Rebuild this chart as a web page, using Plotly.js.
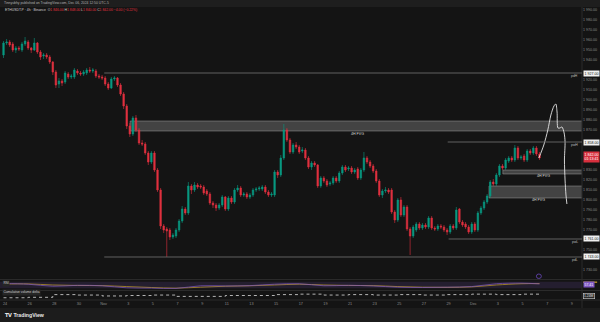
<!DOCTYPE html>
<html><head><meta charset="utf-8">
<script src="https://cdn.plot.ly/plotly-3.0.1.min.js"></script>
<style>html,body{margin:0;padding:0;background:#141414;}#chart{width:600px;height:322px;}</style>
</head><body><div id="chart"></div>
<script>
// ---- candle data (price) ----
const openP=[
1945,1957,1958,1956,1950,1952,1950,1956,1958,1952,
1950,1957,1948,1944,1945,1943,1938,1928,1916,1919,
1918,1926,1923,1923,1929,1927,1926,1927,1930,1929,
1929,1924,1923,1922,1916,1912,1921,1922,1915,1906,
1894,1874,1866,1882,1870,1857,1856,1847,1838,1847,
1830,1810,1774,1771,1770,1763,1764,1770,1779,1791,
1787,1814,1810,1815,1814,1813,1809,1806,1797,1795,
1792,1795,1803,1791,1802,1798,1810,1812,1805,1806,
1803,1805,1810,1811,1811,1813,1808,1805,1805,1828,
1825,1842,1870,1860,1848,1855,1853,1849,1850,1842,
1833,1837,1835,1814,1822,1819,1816,1817,1822,1819,
1827,1833,1831,1832,1828,1831,1822,1830,1842,1838,
1834,1829,1819,1805,1809,1810,1810,1788,1780,1800,
1785,1793,1771,1764,1770,1776,1772,1775,1773,1782,
1772,1771,1774,1773,1770,1768,1774,1772,1791,1778,
1776,1773,1768,1776,1770,1787,1792,1798,1804,1818,
1816,1825,1834,1832,1839,1842,1840,1852,1842,1844,
1840,1849,1847,1852,1846];
const highP=[
1959,1961,1960,1958,1954,1954,1958,1963,1960,1953,
1962,1958,1950,1947,1947,1945,1939,1930,1922,1921,
1929,1928,1926,1932,1931,1929,1930,1932,1933,1932,
1931,1926,1925,1924,1918,1923,1924,1923,1917,1908,
1896,1877,1884,1885,1872,1860,1858,1849,1849,1849,
1832,1812,1776,1773,1772,1767,1772,1781,1794,1793,
1818,1816,1818,1817,1816,1815,1811,1808,1799,1797,
1797,1805,1804,1804,1804,1812,1815,1814,1808,1808,
1807,1812,1813,1814,1815,1815,1810,1808,1830,1830,
1845,1876,1872,1862,1857,1858,1855,1853,1852,1844,
1839,1839,1836,1824,1824,1821,1819,1824,1824,1829,
1835,1835,1834,1834,1832,1833,1832,1848,1844,1840,
1836,1831,1821,1811,1813,1812,1812,1790,1802,1803,
1795,1795,1773,1775,1778,1778,1777,1777,1784,1784,
1774,1776,1776,1775,1772,1776,1776,1793,1792,1780,
1778,1775,1778,1778,1789,1794,1800,1806,1820,1821,
1827,1836,1836,1842,1844,1844,1855,1854,1845,1846,
1851,1851,1854,1854,1848];
const lowP=[
1942,1955,1953,1948,1947,1949,1948,1954,1950,1947,
1949,1946,1940,1941,1941,1936,1925,1912,1912,1914,
1916,1921,1921,1921,1925,1924,1924,1925,1927,1927,
1922,1921,1920,1914,1910,1911,1919,1913,1904,1891,
1871,1863,1864,1868,1855,1854,1845,1835,1836,1828,
1808,1771,1767,1743,1760,1761,1762,1768,1777,1785,
1785,1806,1808,1811,1811,1805,1804,1795,1792,1789,
1790,1793,1789,1789,1796,1796,1808,1803,1803,1801,
1801,1803,1808,1809,1809,1806,1803,1803,1803,1822,
1823,1840,1858,1846,1846,1851,1846,1847,1840,1831,
1830,1833,1812,1812,1817,1813,1814,1815,1817,1817,
1825,1828,1829,1826,1826,1820,1820,1828,1836,1832,
1827,1817,1803,1802,1807,1806,1786,1777,1778,1783,
1783,1769,1745,1762,1768,1770,1770,1771,1771,1770,
1769,1769,1771,1768,1765,1766,1770,1770,1776,1773,
1771,1766,1766,1768,1768,1785,1790,1796,1802,1814,
1814,1823,1830,1830,1837,1838,1838,1840,1840,1838,
1838,1845,1845,1844,1840];
const closeP=[
1957,1958,1955,1950,1952,1951,1956,1959,1952,1950,
1957,1948,1943,1945,1943,1938,1928,1915,1919,1917,
1927,1923,1924,1930,1927,1926,1928,1930,1929,1930,
1924,1923,1922,1916,1912,1921,1922,1915,1906,1894,
1874,1866,1882,1870,1857,1856,1847,1838,1847,1830,
1810,1774,1770,1769,1763,1765,1770,1779,1791,1787,
1814,1810,1815,1813,1813,1807,1806,1797,1795,1792,
1795,1803,1791,1802,1798,1810,1812,1805,1806,1803,
1805,1810,1811,1812,1813,1808,1805,1806,1828,1825,
1842,1870,1860,1848,1855,1853,1848,1850,1842,1833,
1837,1835,1814,1822,1819,1815,1817,1822,1819,1827,
1833,1830,1832,1828,1830,1822,1830,1842,1838,1834,
1829,1819,1805,1809,1810,1808,1788,1780,1800,1785,
1793,1771,1764,1773,1776,1772,1775,1773,1782,1772,
1771,1774,1773,1770,1768,1774,1772,1790,1778,1775,
1773,1768,1776,1770,1787,1792,1798,1804,1818,1816,
1825,1834,1832,1840,1842,1840,1852,1842,1843,1840,
1849,1847,1852,1846,1842];

// time axis labels (every 2 days)
const timeLabels=["24","26","28","30","Nov","3","5","7","9","11","13","15","17","19","21","23","25","27","29","Dec","3","5","7","9"];

// price axis labels
const priceTicks=[1730,1740,1750,1760,1770,1780,1790,1800,1810,1820,1830,1840,1850,1860,1870,1880,1890,1900,1910,1920,1930,1940,1950,1960,1970,1980,1990];

// key levels
const levelNames=["pdH","pwH","pwL","pdL"];
const levelPrice=[1927,1858,1761,1743];
const levelStart=[32.7,144.2,144.5,32.7];

// fair value gaps
const fvgTop=[1879,1830,1814];
const fvgBottom=[1869,1826,1802];
const fvgStart=[41.1,162.1,157.6];
const fvgLabelAt=[115,175.4,173.8];

// hand-drawn projection path
const pathIdx=[173.8,175.4,176.7,177.7,178.7,179.3,179.7,180.0,180.6,181.3,182.0,182.3,182.1,182.3,182.6,182.9];
const pathPrice=[1842,1855,1870,1885,1894,1896,1888,1872,1872,1873,1867,1858,1840,1820,1805,1796];

// RSI pane
const rsiIdx=[0,8,16,24,32,40,48,56,64,72,80,88,96,104,112,120,128,136,144,152,160,168,174];
const rsiVal=[60,55,42,48,45,32,30,28,45,44,46,55,58,45,48,44,36,34,36,40,58,62,57];
const rsiMA=[56,57,50,47,46,40,34,30,36,42,45,50,55,50,47,46,40,36,35,38,50,58,59];

// cumulative volume delta pane
const cvdVal=[2.5,3,6,5.5,4.5,5,5.5,4,4,5,5,6,6.5,5.5,6,5.5,6,5.5,6,6.5,6,6.5,6];

const GREEN='#089981', RED='#e0313f';
const idx=openP.map((_,i)=>i);
const fmt=v=>v.toLocaleString('en-US',{minimumFractionDigits:2,maximumFractionDigits:2}).replace(/,/g,' ');
const last=closeP[closeP.length-1];
// hide axis labels hidden behind the highlighted price boxes
const boxed=levelPrice.concat([last,last+2]);
const shownTicks=priceTicks.filter(v=>boxed.every(b=>Math.abs(v-b)>=7));

const traces=[
 {type:'candlestick',x:idx,open:openP,high:highP,low:lowP,close:closeP,xaxis:'x',yaxis:'y',
  increasing:{line:{color:GREEN,width:0.6},fillcolor:GREEN},
  decreasing:{line:{color:RED,width:0.6},fillcolor:RED},
  whiskerwidth:0,hoverinfo:'skip'},
 {type:'scatter',mode:'lines',x:pathIdx,y:pathPrice,xaxis:'x',yaxis:'y',
  line:{color:'#e6e6e6',width:0.9,shape:'spline',smoothing:0.8},hoverinfo:'skip'},
 {type:'scatter',mode:'lines',x:rsiIdx,y:rsiMA,xaxis:'x',yaxis:'y2',
  line:{color:'#c9a227',width:0.7,shape:'spline'},hoverinfo:'skip'},
 {type:'scatter',mode:'lines',x:rsiIdx,y:rsiVal,xaxis:'x',yaxis:'y2',
  line:{color:'#7e57c2',width:0.7,shape:'spline'},hoverinfo:'skip'},
 {type:'scatter',mode:'lines',x:rsiIdx,y:cvdVal,xaxis:'x',yaxis:'y3',
  line:{color:'#dddddd',width:0.8,dash:'dot',shape:'hv'},hoverinfo:'skip'}
];

const shapes=[];
const annotations=[];
const BORDER='#2b2b2b';
// header & footer strips
shapes.push({type:'rect',xref:'paper',yref:'paper',x0:0,x1:1.04,y0:1,y1:1.03,fillcolor:'#1e1e1e',line:{width:0},layer:'below'});
shapes.push({type:'rect',xref:'paper',yref:'paper',x0:0,x1:1.04,y0:-0.0751,y1:-0.0273,fillcolor:'#1c1c1c',line:{width:0},layer:'below'});
// pane separators
shapes.push({type:'line',xref:'paper',yref:'paper',x0:1,x1:1,y0:-0.0273,y1:1,line:{color:BORDER,width:1}});
[0.0700,0.0324,0].forEach(p=>shapes.push({type:'line',xref:'paper',yref:'paper',x0:0,x1:1.04,y0:p,y1:p,line:{color:BORDER,width:1}}));
// RSI band
shapes.push({type:'rect',xref:'paper',yref:'y2',x0:0,x1:1,y0:30,y1:70,fillcolor:'rgba(126,87,194,0.16)',line:{width:0},layer:'below'});
// RSI-MA marker strip on the axis (yellow tab peeking above the RSI value box)
shapes.push({type:'rect',xref:'paper',yref:'y2',x0:1.002,x1:1.026,y0:64,y1:72,fillcolor:'#c9a227',line:{width:0}});
// FVG boxes
fvgTop.forEach((t,k)=>{
 shapes.push({type:'rect',xref:'x',yref:'y',x0:fvgStart[k],x1:200,y0:fvgBottom[k],y1:t,
  fillcolor:'rgba(125,125,125,0.45)',line:{color:'rgba(170,170,170,0.55)',width:0.8},layer:'below'});
 annotations.push({xref:'x',yref:'y',x:fvgLabelAt[k],y:fvgBottom[k]-2.5,text:'4H FVG',showarrow:false,
  font:{family:'Arial',size:3.6,color:'#d8d8d8'}});
});
// levels
levelPrice.forEach((p,k)=>{
 shapes.push({type:'line',xref:'x',yref:'y',x0:levelStart[k],x1:200,y0:p,y1:p,line:{color:'#6a6a6a',width:0.9}});
 annotations.push({xref:'paper',yref:'y',x:0.997,xanchor:'right',y:p-3,text:levelNames[k],showarrow:false,
  font:{family:'Arial',size:3.4,color:'#bdbdbd'}});
 annotations.push({xref:'paper',yref:'y',x:1,xanchor:'left',xshift:1,y:p,text:fmt(p),showarrow:false,
  bgcolor:'#f0f0f0',borderpad:0.6,font:{family:'Arial',size:3.6,color:'#131313'}});
});
// circle icon
shapes.push({type:'circle',xref:'x',yref:'y',x0:173.0,x1:174.6,y0:1721.5,y1:1726,line:{color:'#5a3f9e',width:1}});
// current price label
annotations.push({xref:'paper',yref:'y',x:1,xanchor:'left',xshift:1,y:last+1,text:fmt(last)+'<br>01:13:41',showarrow:false,
 bgcolor:'#d8303e',borderpad:0.6,font:{family:'Arial',size:3.6,color:'#ffffff'}});
// RSI & CVD value boxes
annotations.push({xref:'paper',yref:'y2',x:1,xanchor:'left',xshift:1,y:52,text:'57.41',showarrow:false,
 bgcolor:'#7e57c2',borderpad:0.6,font:{family:'Arial',size:3.4,color:'#ffffff'}});
annotations.push({xref:'paper',yref:'y3',x:1,xanchor:'left',xshift:1,y:5,text:'1.24M',showarrow:false,
 bgcolor:'#2a2a2a',bordercolor:'#d0d0d0',borderwidth:0.6,borderpad:0.4,font:{family:'Arial',size:3.4,color:'#e0e0e0'}});
// pane titles
annotations.push({xref:'paper',yref:'y2',x:0.004,xanchor:'left',y:62,text:'RSI',showarrow:false,
 bgcolor:'#262626',borderpad:0.4,font:{family:'Arial',size:3.3,color:'#cfcfcf'}});
annotations.push({xref:'paper',yref:'y3',x:0.004,xanchor:'left',y:8,text:'Cumulative volume delta',showarrow:false,
 bgcolor:'#262626',borderpad:0.4,font:{family:'Arial',size:3.3,color:'#cfcfcf'}});
// header texts
annotations.push({xref:'paper',yref:'paper',x:0.004,xanchor:'left',y:1.012,yanchor:'middle',
 text:'Tinnyubhy published on TradingView.com, Dec 06, 2024 12:50 UTC-5',showarrow:false,
 font:{family:'Arial',size:3.4,color:'#b0b0b0'}});
const o=openP[openP.length-1],h=highP[highP.length-1],l=lowP[lowP.length-1];
annotations.push({xref:'paper',yref:'paper',x:0.006,xanchor:'left',y:0.991,yanchor:'middle',
 text:'ETHUSDT.P · 4h · Binance  O<span style="color:#e0313f">'+fmt(o)+'</span> H<span style="color:#e0313f">'+fmt(h)+
 '</span> L<span style="color:#e0313f">'+fmt(l)+'</span> C<span style="color:#e0313f">'+fmt(last)+' −4.00 (−0.22%)</span>',
 showarrow:false,font:{family:'Arial',size:3.4,color:'#d0d0d0'}});
// footer logo
annotations.push({xref:'paper',yref:'paper',x:0.005,xanchor:'left',y:-0.051,yanchor:'middle',
 text:'<b>𝗧𝗩 TradingView</b>',showarrow:false,font:{family:'Arial',size:5.2,color:'#e8e8e8'}});

const layout={
 width:600,height:322,margin:{l:0,r:18,t:7,b:22},
 paper_bgcolor:'#141414',plot_bgcolor:'#141414',showlegend:false,separators:'. ',
 font:{family:'Arial'},
 xaxis:{range:[-1.14,187.8],anchor:'y3',showgrid:false,zeroline:false,showline:false,ticks:'',
  tickvals:timeLabels.map((_,k)=>8*k+0.5),ticktext:timeLabels,tickfont:{size:3.8,color:'#8c8c8c'},
  rangeslider:{visible:false},fixedrange:true},
 yaxis:{domain:[0.0717,1],range:[1721,1993],side:'right',tickvals:shownTicks,tickformat:',.2f',
  showgrid:false,zeroline:false,showline:false,ticks:'',tickfont:{size:3.6,color:'#8c8c8c'},fixedrange:true},
 yaxis2:{domain:[0.0341,0.0683],range:[18,82],showticklabels:false,showgrid:false,zeroline:false,fixedrange:true},
 yaxis3:{domain:[0,0.0307],range:[0,10],showticklabels:false,showgrid:false,zeroline:false,fixedrange:true},
 shapes:shapes,annotations:annotations
};
Plotly.newPlot('chart',traces,layout,{staticPlot:true,displayModeBar:false});
</script></body></html>
